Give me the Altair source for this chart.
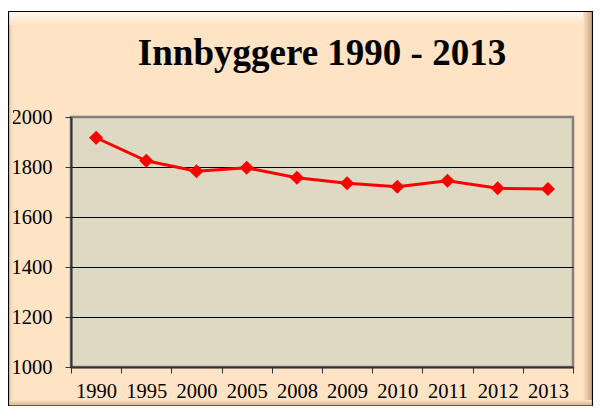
import altair as alt
import pandas as pd

years = ["1990", "1995", "2000", "2005", "2008", "2009", "2010", "2011", "2012", "2013"]
population = [1917, 1825, 1783, 1797, 1757, 1735, 1721, 1745, 1715, 1712]
y_ticks = [1000, 1200, 1400, 1600, 1800, 2000]
title_text = "Innbyggere 1990 - 2013"

df = pd.DataFrame({"year": years, "pop": population})
one = pd.DataFrame({"k": [0]})

W, H = 502, 250
PEACH = "#FEE3C5"

def grad(c1, c2, vertical=False):
    return alt.Gradient(
        gradient="linear",
        stops=[alt.GradientStop(color=c1, offset=0), alt.GradientStop(color=c2, offset=1)],
        x1=0, y1=0, x2=0 if vertical else 1, y2=1 if vertical else 0,
    )

def deco(x, x2, y, y2, **kw):
    return alt.Chart(one).mark_rect(**kw).encode(
        x=alt.value(x), x2=alt.value(x2), y=alt.value(y), y2=alt.value(y2)
    )

white_top = deco(-70, 540, -112, -106, color="#FFFFFF")
top_band = deco(-62, 521, -105, -92, color=grad("#FFF7EC", PEACH, vertical=True))
left_band = deco(-62, -58, -92, 289, color=grad("#E9C8A2", PEACH))
right_band = deco(512, 522, -105, 289, color=grad(PEACH, "#C69F7B"))
bottom_band = deco(-62, 522, 283, 289, color=grad(PEACH, "#D5AE88", vertical=True))
border = deco(-62.5, 521.5, -105.5, 289, fillOpacity=0, stroke="#000000", strokeWidth=1.2)

title = alt.Chart(one).mark_text(
    text=title_text, font="Liberation Serif", fontSize=37, fontWeight="bold",
    color="#000000", align="center", baseline="alphabetic",
).encode(x=alt.value(W / 2), y=alt.value(-52))

x_enc = alt.X(
    "year:O",
    sort=years,
    scale=alt.Scale(type="band", paddingInner=0, paddingOuter=0),
    axis=alt.Axis(
        title=None, labelAngle=0, tickBand="extent", grid=False,
        domainColor="#333333", domainWidth=2, tickColor="#333333", tickSize=6,
        labelFont="Liberation Serif", labelFontSize=20.5, labelColor="#000000", labelPadding=8,
    ),
)
y_enc = alt.Y(
    "pop:Q",
    scale=alt.Scale(domain=[1000, 2000], nice=False, zero=False),
    axis=alt.Axis(
        title=None, values=y_ticks, format="d", grid=True,
        gridColor={"condition": {"test": "datum.value === 2000", "value": "#808080"}, "value": "#000000"},
        gridWidth=1,
        domainColor="#333333", domainWidth=2, tickColor="#333333", tickSize=6,
        labelFont="Liberation Serif", labelFontSize=20.5, labelColor="#000000", labelPadding=13,
    ),
)

base = alt.Chart(df)
line = base.mark_line(color="#FF0000", strokeWidth=3).encode(x=x_enc, y=y_enc)
pts = base.mark_point(shape="diamond", filled=True, size=200, color="#FF0000", opacity=1).encode(x=x_enc, y=y_enc)

chart = alt.layer(
    white_top, top_band, left_band, right_band, bottom_band, border, title, line, pts
).properties(
    width=W, height=H,
    autosize=alt.AutoSizeParams(type="none"),
    padding={"left": 63, "top": 109, "right": 20, "bottom": 39},
    background=PEACH,
).configure_view(
    fill="#DDD9C3", stroke="#808080", strokeWidth=2.5
)

chart.save("out.html", embed_options={"renderer": "svg", "actions": False})
